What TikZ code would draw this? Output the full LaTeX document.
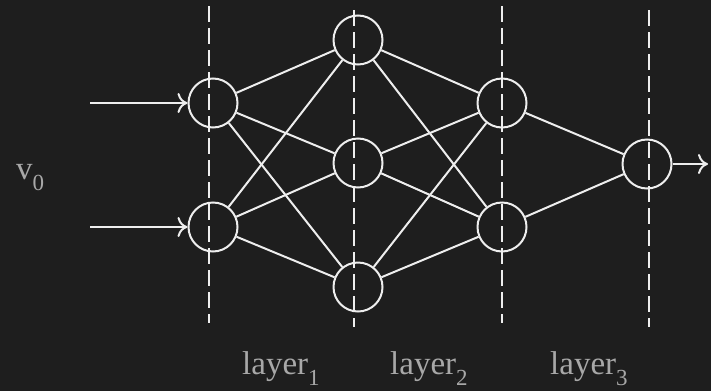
\documentclass[tikz,border=0pt]{standalone}
\usepackage{fontspec}
\setmainfont{Liberation Serif}
\usetikzlibrary{arrows.meta}
\definecolor{Back}{HTML}{1E1E1E}
\definecolor{Wire}{HTML}{EEEEEE}
\definecolor{Label}{HTML}{A8A8A8}
\newcommand{\Sub}[1]{\raisebox{-11pt}{\fontsize{23}{23}\selectfont #1}}

\begin{document}
\begin{tikzpicture}[
  x=1pt, y=-1pt,
  font=\fontsize{33}{40}\selectfont,
  >={To[length=10pt,width=20pt]},
  neuron/.style={circle, draw=Wire, line width=2pt, minimum size=49pt, inner sep=0pt},
  link/.style={draw=Wire, line width=2pt},
  feed/.style={link, ->},
  divider/.style={draw=Wire, line width=2pt, dash pattern=on 16pt off 6pt},
  caption/.style={text=Label, inner sep=0pt, anchor=base west}
]
  \fill[Back] (0,0) rectangle (711,391);
  \useasboundingbox (0,0) rectangle (711,391);

  % neurons, one column per layer
  \node[neuron] (a1) at (213,103) {};
  \node[neuron] (a2) at (213,227) {};
  \node[neuron] (b1) at (358,40) {};
  \node[neuron] (b2) at (358,163) {};
  \node[neuron] (b3) at (358,287) {};
  \node[neuron] (c1) at (502,103) {};
  \node[neuron] (c2) at (502,227) {};
  \node[neuron] (d)  at (647,164) {};

  % layer borders
  \coordinate (t1) at (209,6);   \coordinate (u1) at (209,323);
  \coordinate (t2) at (354,10);  \coordinate (u2) at (354,327);
  \coordinate (t3) at (502,6);   \coordinate (u3) at (502,323);
  \coordinate (t4) at (649,10);  \coordinate (u4) at (649,327);
  \foreach \k in {1,...,4}
    \draw[divider] (t\k) -- (u\k);

  % connections
  \foreach \p in {a1,a2}
    \foreach \q in {b1,b2,b3}
      \draw[link] (\p) -- (\q);
  \foreach \p in {b1,b2,b3}
    \foreach \q in {c1,c2}
      \draw[link] (\p) -- (\q);
  \foreach \p in {c1,c2}
    \draw[link] (\p) -- (d);

  % inputs and output
  \coordinate (s1) at (90,103);
  \coordinate (s2) at (90,227);
  \coordinate (e)  at (708,164);
  \draw[feed] (s1) -- (a1);
  \draw[feed] (s2) -- (a2);
  \draw[feed] (d) -- (e);

  % labels
  \node[caption] (v) at (16,179) {v\Sub{0}};
  \node[caption] (l1) at (242,374) {layer\Sub{1}};
  \node[caption] (l2) at (390,374) {layer\Sub{2}};
  \node[caption] (l3) at (550,374) {layer\Sub{3}};
\end{tikzpicture}
\end{document}
